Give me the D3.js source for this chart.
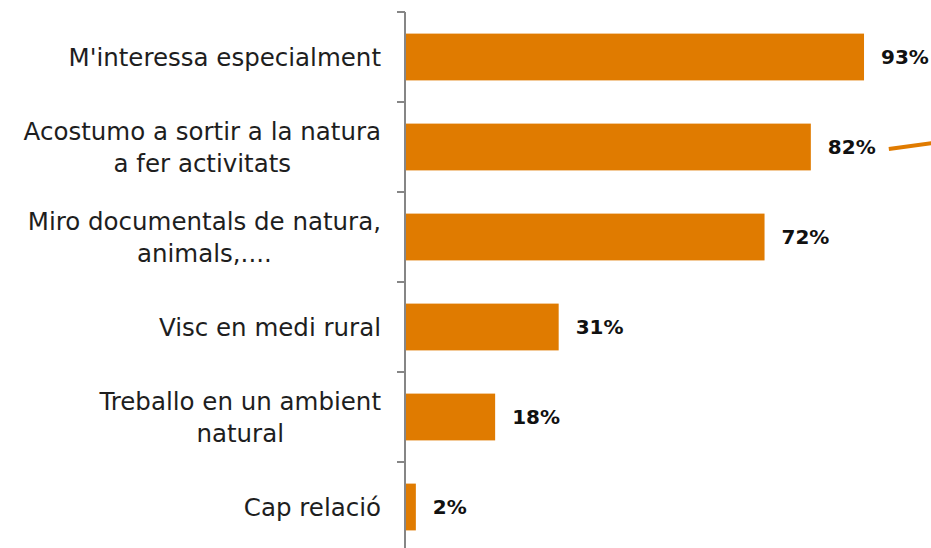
<!DOCTYPE html>
<html>
<head>
<meta charset="utf-8">
<script src="https://cdn.jsdelivr.net/npm/d3@7"></script>
<style>
  body { margin: 0; background: #fff; }
  svg { display: block; }
</style>
</head>
<body>
<div id="chart"></div>
<script>
const width = 931;
const height = 548;

// data
const categories = [
    ["M'interessa especialment"],
    ["Acostumo a sortir a la natura", "a fer activitats"],
    ["Miro documentals de natura,", "animals,...."],
    ["Visc en medi rural"],
    ["Treballo en un ambient", "natural"],
    ["Cap relació"]
];
const values = [93.0, 82.2, 72.8, 31.0, 18.1, 2.0];
const valueLabels = ["93%", "82%", "72%", "31%", "18%", "2%"];

const orange = '#e07b00';
const axisGrey = '#868686';
const labelFont = "'Century Gothic', 'DejaVu Sans', sans-serif";

const keys = categories.map((d, i) => i);

const x = d3.scaleLinear().domain([0, 100]).range([406, 898.5]);
const y = d3.scaleBand().domain(keys).range([12, 552]).padding(0);
const barH = y.bandwidth() * 0.52;

const svg = d3.select('#chart')
    .append('svg')
    .attr('width', width)
    .attr('height', height)
    .attr('viewBox', `0,0,${width},${height}`);

// bars
svg.selectAll('rect.bar')
    .data(keys)
    .enter()
    .append('rect')
    .attr('class', 'bar')
    .attr('x', x(0))
    .attr('y', d => y(d) + (y.bandwidth() - barH) / 2)
    .attr('width', d => x(values[d]) - x(0))
    .attr('height', barH)
    .attr('fill', orange);

// axis line + ticks on band boundaries
const bounds = keys.map(d => y(d)).concat([y(keys[keys.length - 1]) + y.bandwidth()]);
svg.append('line')
    .attr('x1', 405).attr('x2', 405)
    .attr('y1', bounds[0]).attr('y2', bounds[bounds.length - 1])
    .attr('stroke', axisGrey)
    .attr('stroke-width', 2);

svg.selectAll('line.tick')
    .data(bounds)
    .enter()
    .append('line')
    .attr('class', 'tick')
    .attr('x1', 397).attr('x2', 405)
    .attr('y1', d => d).attr('y2', d => d)
    .attr('stroke', axisGrey)
    .attr('stroke-width', 2);

// category labels: block right aligned, lines centred on each other
const lineH = 31.7;
const labelRight = 381;
const cats = svg.selectAll('text.cat')
    .data(keys)
    .enter()
    .append('text')
    .attr('class', 'cat')
    .attr('text-anchor', 'middle')
    .style('font-family', labelFont)
    .style('font-size', '24.5px')
    .attr('fill', '#1e1e1e');

cats.each(function (d) {
    const lines = categories[d];
    const c = y(d) + y.bandwidth() / 2;
    const first = c - (lines.length - 1) * lineH / 2;
    const spans = d3.select(this).selectAll('tspan')
        .data(lines)
        .enter()
        .append('tspan')
        .attr('y', (l, i) => first + i * lineH)
        .attr('dy', '0.36em')
        .text(l => l);
    let maxW = 0;
    spans.each(function () { maxW = Math.max(maxW, this.getComputedTextLength()); });
    spans.attr('x', labelRight - maxW / 2);
});

// value labels
svg.selectAll('text.val')
    .data(keys)
    .enter()
    .append('text')
    .attr('class', 'val')
    .attr('x', d => x(values[d]) + 17)
    .attr('y', d => y(d) + y.bandwidth() / 2)
    .attr('dy', '0.36em')
    .style('font-family', labelFont)
    .style('font-size', '20px')
    .style('font-weight', 'bold')
    .attr('fill', '#111')
    .text(d => valueLabels[d]);

// stray connector line going off the right edge
svg.append('line')
    .attr('x1', x(values[1]) + 78)
    .attr('y1', y(1) + y.bandwidth() / 2 + 2)
    .attr('x2', width + 2)
    .attr('y2', y(1) + y.bandwidth() / 2 - 4)
    .attr('stroke', orange)
    .attr('stroke-width', 4);
</script>
</body>
</html>
